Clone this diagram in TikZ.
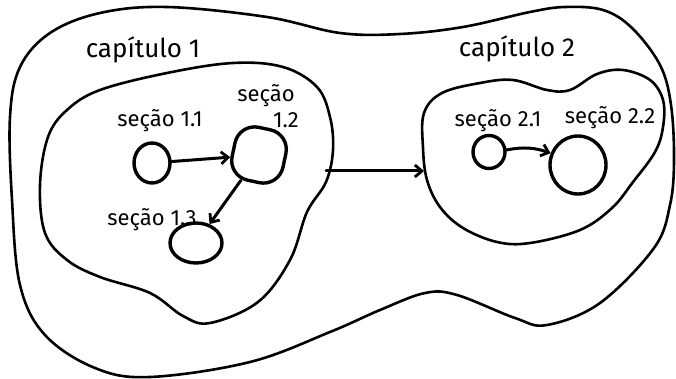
\documentclass[tikz,border=0pt]{standalone}
\usepackage{fontspec}
\setsansfont{Fira Sans}
\usetikzlibrary{arrows.meta,shapes.geometric}
\tikzset{
  blob/.style={draw=black, line width=2.6pt, line join=round},
  sect/.style={draw=black, line width=3.4pt, ellipse, inner sep=0pt},
  link/.style={draw=black, line width=3pt, line cap=round,
    -{Straight Barb[length=7pt,width=12pt,line width=2.8pt]}},
  chap/.style={font=\sffamily\fontsize{26}{28}\selectfont, inner sep=0pt},
  lbl/.style={font=\sffamily\fontsize{22}{22}\selectfont, inner sep=0pt}
}
\begin{document}
\begin{tikzpicture}[x=1pt,y=-1pt]
\useasboundingbox (0,0) rectangle (676,379);

% outer region: the whole document
\draw[blob] plot[smooth cycle, tension=0.6] coordinates {
  (50,33) (100,13) (167,7) (267,17) (340,33) (400,34) (463,27) (530,12)
  (565,7) (603,10) (632,28) (660,65) (671,105) (674,160) (670,205)
  (654,248) (600,303) (547,325) (515,318) (457,295) (425,293) (380,310)
  (330,332) (250,362) (150,377) (95,368) (45,335) (20,285) (12,200)
  (10,117) (20,67)};

% chapter 1 region
\draw[blob] plot[smooth cycle, tension=0.6] coordinates {
  (40,185) (48,137) (67,110) (100,90) (167,73) (233,63) (283,67) (317,87)
  (330,117) (333,150) (326,182) (307,212) (290,260) (258,302) (210,323)
  (183,316) (150,293) (100,277) (67,260) (45,233)};

% chapter 2 region
\draw[blob] plot[smooth cycle, tension=0.6] coordinates {
  (424,113) (442,93) (480,83) (513,80) (547,90) (570,90) (597,74) (623,70)
  (650,80) (663,100) (663,127) (655,152) (633,182) (612,208) (580,230)
  (530,243) (497,242) (463,228) (440,207) (427,180) (423,148)};

% chapter titles
\node[chap] (cap1) at (143,50) {capítulo 1};
\node[chap] (cap2) at (517,49) {capítulo 2};

% sections of chapter 1
\node[sect, minimum width=36pt, minimum height=40pt] (s11) at (152,163) {};
\node[draw=black, line width=3.4pt, rounded corners=20pt, rotate=-12,
      minimum width=52pt, minimum height=54pt, inner sep=0pt] (s12) at (259,155) {};
\node[sect, minimum width=52pt, minimum height=40pt] (s13) at (196,243) {};

\node[lbl] (l11) at (160,121) {seção 1.1};
\node[lbl] (l12a) at (266,96) {seção};
\node[lbl] (l12b) at (286,120) {1.2};
\node[lbl] (l13) at (152,220) {seção 1.3};

% sections of chapter 2
\node[sect, minimum width=32pt, minimum height=33pt] (s21) at (489,152) {};
\node[sect, minimum width=56pt, minimum height=58pt] (s22) at (578,165) {};

\node[lbl] (l21) at (498,121) {seção 2.1};
\node[lbl] (l22) at (610,118) {seção 2.2};

% links between sections
\draw[link] (s11) -- (s12);
\draw[link] (s12) -- (s13);
\draw[link] (s21) to[bend left=15] (s22);

% link between chapters
\coordinate (c1out) at (326,171);
\coordinate (c2in) at (424,171);
\draw[link] (c1out) -- (c2in);
\end{tikzpicture}
\end{document}
